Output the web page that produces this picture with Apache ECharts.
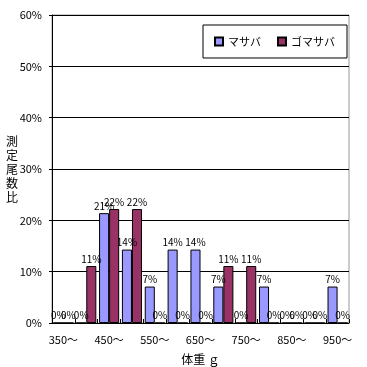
<!DOCTYPE html>
<html><head><meta charset="utf-8">
<script src="https://cdn.jsdelivr.net/npm/echarts@6/dist/echarts.min.js"></script>
<style>html,body{margin:0;padding:0;background:#fff}#c{width:367px;height:367px}</style>
</head><body><div id="c"></div>
<script>
var categories = ['350～','400～','450～','500～','550～','600～','650～','700～','750～','800～','850～','900～','950～'];
var masaba    = [0, 0, 21.4, 14.3, 7.1, 14.3, 14.3, 7.1, 0, 7.1, 0, 0, 7.1];
var gomasaba  = [0, 11.1, 22.2, 22.2, 0, 0, 0, 11.1, 11.1, 0, 0, 0, 0];
var yTicks = [0, 10, 20, 30, 40, 50, 60];
var seriesNames = ['マサバ', 'ゴマサバ'];

var font = '"Noto Sans CJK JP", "DejaVu Sans", sans-serif';
var chart = echarts.init(document.getElementById('c'), null, {renderer: 'canvas'});
var lbl = {show: true, position: 'top', distance: 2, fontSize: 10, color: '#000', fontFamily: font,
  formatter: function (p) { return Math.round(p.value) + '%'; }};
chart.setOption({
  animation: false,
  backgroundColor: '#fff',
  textStyle: {fontFamily: font},
  legend: {
    top: 25, right: 20,
    padding: [11, 12, 11, 11],
    itemGap: 16,
    borderColor: '#000', borderWidth: 1,
    itemWidth: 8, itemHeight: 8,
    textStyle: {fontSize: 11, color: '#000', fontFamily: font},
    icon: 'rect',
    data: seriesNames
  },
  grid: {left: 52, right: 18, top: 15, bottom: 44, show: true, borderColor: '#999', borderWidth: 1,
         outerBoundsMode: 'none', containLabel: false},
  xAxis: {
    type: 'category', data: categories,
    boundaryGap: true,
    name: '体重 ｇ', nameLocation: 'middle', nameGap: 30,
    nameTextStyle: {fontSize: 12, color: '#000', fontFamily: font},
    axisLine: {lineStyle: {color: '#000', width: 1}},
    axisTick: {show: true, inside: true, length: 4, interval: 0, lineStyle: {color: '#000'}},
    axisLabel: {interval: 1, fontSize: 11, color: '#000', margin: 11, fontFamily: font}
  },
  yAxis: {
    type: 'value', min: yTicks[0], max: yTicks[yTicks.length - 1], interval: 10,
    name: '測\n定\n尾\n数\n比', nameLocation: 'middle', nameGap: 34, nameRotate: 0,
    nameMoveOverlap: false,
    nameTextStyle: {fontSize: 12, color: '#000', lineHeight: 14, fontFamily: font},
    axisLine: {show: true, lineStyle: {color: '#000'}},
    axisTick: {show: true, length: 3, lineStyle: {color: '#000'}},
    axisLabel: {fontSize: 11, color: '#000', margin: 10, formatter: '{value}%', fontFamily: font},
    splitLine: {show: true, lineStyle: {color: '#000', width: 1}}
  },
  series: [
    {name: seriesNames[0], type: 'bar', data: masaba, barGap: '0%', barCategoryGap: '12%',
     itemStyle: {color: '#9999FF', borderColor: '#000', borderWidth: 1}, label: lbl},
    {name: seriesNames[1], type: 'bar', data: gomasaba, barGap: '0%', barCategoryGap: '12%',
     itemStyle: {color: '#993366', borderColor: '#000', borderWidth: 1}, label: lbl}
  ]
});
</script></body></html>
